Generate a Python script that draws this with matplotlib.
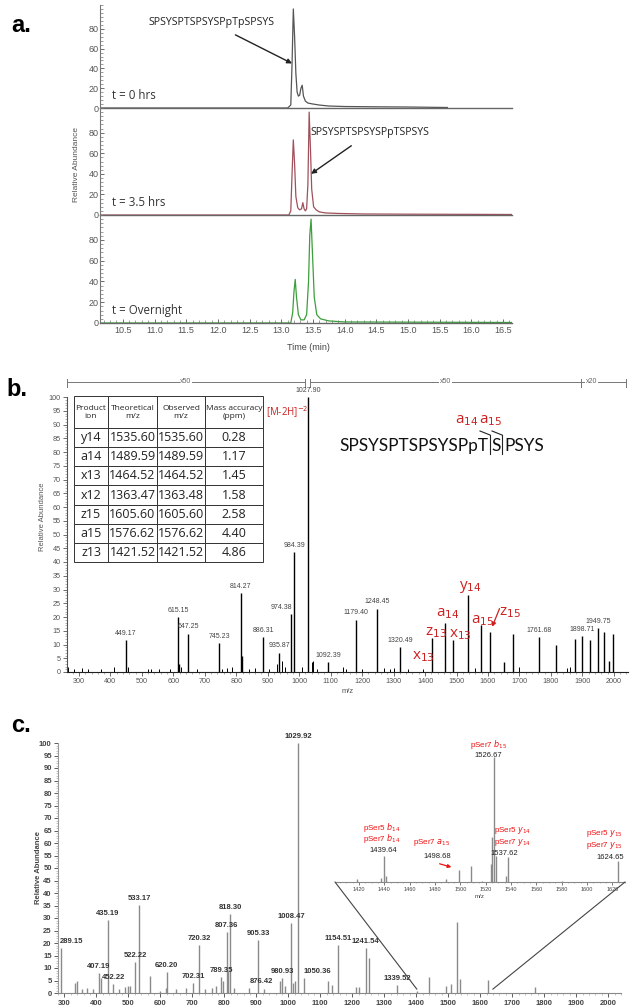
import matplotlib
matplotlib.use("Agg")
import matplotlib.pyplot as plt
from matplotlib.ticker import MultipleLocator
from matplotlib.patches import ConnectionPatch

W, H = 638, 1007
fig = plt.figure(figsize=(W / 100, H / 100), dpi=100)
NARROW = ["Liberation Sans Narrow", "Liberation Sans", "DejaVu Sans"]
ARIAL = ["Liberation Sans", "DejaVu Sans"]
CAL = ["Open Sans", "DejaVu Sans"]
LATO = ["Lato", "DejaVu Sans"]


def box(x0, y0, x1, y1):
    return [x0 / W, 1 - y1 / H, (x1 - x0) / W, (y1 - y0) / H]


def fpos(x, y):
    return (x / W, 1 - y / H)


# ---------------- data: panel a (chromatograms) ----------------
rt_t0 = [10.14, 13.10, 13.15, 13.17, 13.19, 13.21, 13.23, 13.25, 13.27, 13.29, 13.31, 13.33,
         13.35, 13.38, 13.42, 13.50, 13.60, 13.75, 14.00, 14.50, 15.00, 15.62]
ab_t0 = [0, 0, 3, 45, 100, 72, 35, 16, 12, 13, 20, 23, 12, 7, 5, 4, 3, 2, 1.5, 1.2, 1, 0.5]

rt_t35 = [10.14, 13.12, 13.15, 13.17, 13.19, 13.21, 13.23, 13.26, 13.29, 13.32, 13.34, 13.36,
          13.38, 13.40, 13.42, 13.44, 13.46, 13.48, 13.51, 13.55, 13.60, 13.70, 13.90, 14.30,
          15.00, 16.64]
ab_t35 = [0, 0, 4, 40, 73, 50, 18, 7, 5, 6, 12, 6, 4, 6, 30, 100, 65, 25, 8, 5, 3, 2, 1.5, 1,
          0.8, 0.5]

rt_on = [10.14, 13.15, 13.18, 13.20, 13.22, 13.24, 13.27, 13.31, 13.36, 13.40, 13.43, 13.45,
         13.47, 13.49, 13.52, 13.56, 13.62, 13.75, 14.00, 16.64]
ab_on = [0, 0, 10, 30, 42, 25, 8, 3, 3, 8, 40, 85, 100, 70, 25, 8, 4, 2, 1, 0.5]

traces = [(rt_t0, ab_t0, "#555555", "t = 0 hrs"),
          (rt_t35, ab_t35, "#a0505a", "t = 3.5 hrs"),
          (rt_on, ab_on, "#3c9e3c", "t = Overnight")]
a_xticks = [10.5, 11.0, 11.5, 12.0, 12.5, 13.0, 13.5, 14.0, 14.5, 15.0, 15.5, 16.0, 16.5]

# ---------------- data: panel b (MS/MS spectrum) ----------------
b_mz = [449.17, 615.15, 619.0, 647.25, 745.23, 814.27, 818.5, 886.31, 935.87, 974.38, 984.39,
        1027.90, 1092.39, 1179.40, 1248.45, 1320.49, 1421.52, 1464.52, 1489.59, 1535.60,
        1576.62, 1605.60, 1650.0, 1680.0, 1761.68, 1815.0, 1876.0, 1898.71, 1925.0, 1949.75,
        1968.0, 1985.0, 1997.0]
b_ab = [11.6, 20, 3, 14, 10.5, 28.6, 6, 12.7, 7, 21, 43.6,
        100, 3.6, 19, 23, 9, 12.4, 18, 11.6, 28,
        17, 14.5, 3.6, 14, 12.7, 10, 12, 13, 11.6, 16,
        14.5, 4, 14]
b_small_mz = [265, 285, 310, 330, 370, 410, 455, 520, 530, 555, 590, 625, 676, 755, 770, 787,
              840, 860, 905, 928, 945, 955, 1010, 1040, 1045, 1055, 1138, 1150, 1200, 1270,
              1290, 1300, 1345, 1395, 1560, 1700, 1850, 1860]
b_small_ab = [2, 1, 1.5, 1, 1, 2, 2, 1, 1, 1, 1, 2, 1, 1, 1.5, 2,
              1, 1.5, 1, 3, 4, 2, 2, 3.5, 4, 1, 2, 1, 1, 1.5,
              1, 1.5, 1, 1, 1.5, 2, 1.5, 2]
b_labeled = [449.17, 615.15, 647.25, 745.23, 814.27, 886.31, 935.87, 974.38, 984.39, 1027.90,
             1092.39, 1179.40, 1248.45, 1320.49, 1761.68, 1898.71, 1949.75]
b_xticks = list(range(300, 2001, 100))
b_yticks = list(range(0, 101, 5))

table_cols = ["Product\nion", "Theoretical\nm/z", "Observed\nm/z", "Mass accuracy\n(ppm)"]
table_ion = ["y14", "a14", "x13", "x12", "z15", "a15", "z13"]
table_theo = ["1535.60", "1489.59", "1464.52", "1363.47", "1605.60", "1576.62", "1421.52"]
table_obs = ["1535.60", "1489.59", "1464.52", "1363.48", "1605.60", "1576.62", "1421.52"]
table_ppm = ["0.28", "1.17", "1.45", "1.58", "2.58", "4.40", "4.86"]

# ---------------- data: panel c (spectrum + inset) ----------------
c_mz = [289.15, 333, 340, 355, 372, 390, 407.19, 414, 435.19, 452.22, 470, 488, 498, 505,
        522.22, 533.17, 567, 600, 618, 620.20, 650, 680, 702.31, 720.32, 740, 760, 775, 789.35,
        795, 807.36, 812, 818.30, 830, 876.42, 905.33, 925, 975, 980.93, 990, 1008.47, 1015,
        1020, 1029.92, 1050.36, 1124, 1135, 1154.51, 1213, 1220, 1241.54, 1252, 1339.52,
        1402, 1439, 1494, 1510, 1526.67, 1538, 1624, 1770]
c_ab = [18, 4, 5, 1.5, 2, 1.5, 8, 6, 29.2, 3.6, 1.5, 2.5, 3, 3,
        12.4, 35.2, 7, 1, 2, 8.4, 1.5, 2, 4, 19.2, 1.5, 2, 3, 6.4,
        5, 24.4, 9, 31.7, 2, 2, 21.2, 1.5, 5, 6, 3, 28, 4,
        5, 100, 6, 5, 3.3, 19.2, 2.4, 2.4, 18, 14, 3.2,
        1, 6.4, 2.7, 3.6, 28.4, 5.6, 5.2, 2.4]
c_labeled = [289.15, 407.19, 435.19, 452.22, 522.22, 533.17, 620.20, 702.31, 720.32, 789.35,
             807.36, 818.30, 876.42, 905.33, 980.93, 1008.47, 1029.92, 1050.36, 1154.51,
             1241.54, 1339.52]
c_xticks = list(range(300, 2001, 100))
c_yticks = list(range(0, 101, 5))

inset_mz = [1418, 1437.5, 1439.64, 1441, 1489, 1498.68, 1508, 1517, 1524, 1525.2, 1526.67,
            1528, 1536, 1537.62, 1580, 1624.65]
inset_ab = [2, 3, 20, 5, 2.5, 9, 12, 1, 14, 35, 96, 20, 5, 19, 1, 16]
inset_xticks = list(range(1420, 1621, 20))

# inset annotations: (number text, x, y, red lines [(text, x, y)])
inset_notes = [
    ("1526.67", 1522, 97, [("pSer7 $b_{15}$", 1522, 105.5)]),
    ("1439.64", 1439, 24.6, [("pSer7 $b_{14}$", 1438, 33.5), ("pSer5 $b_{14}$", 1438, 42)]),
    ("1537.62", 1535, 22, [("pSer7 $y_{14}$", 1541, 30.5), ("pSer5 $y_{14}$", 1541, 39.5)]),
    ("1624.65", 1618, 18.5, [("pSer7 $y_{15}$", 1613.5, 28), ("pSer5 $y_{15}$", 1613.5, 37.5)]),
    ("1498.68", 1481.5, 20, [("pSer7 $a_{15}$", 1477, 30)]),
]

# =================== PANEL a ===================
a_rows = [(5, 108), (108, 215), (215, 323)]
a_axes = []
for i, ((y0, y1), (rt, ab, col, lab)) in enumerate(zip(a_rows, traces)):
    ax = fig.add_axes(box(100, y0, 512, y1))
    ax.plot(rt, ab, color=col, lw=0.9)
    ax.set_xlim(10.14, 16.64)
    ax.set_ylim(0, 104)
    for s in ["top", "right"]:
        ax.spines[s].set_visible(False)
    ax.spines["left"].set_color("#777777")
    ax.spines["bottom"].set_color("#666666")
    ax.spines["left"].set_linewidth(0.8)
    ax.spines["bottom"].set_linewidth(1.0)
    ax.set_yticks([0, 20, 40, 60, 80])
    ax.yaxis.set_minor_locator(MultipleLocator(4))
    ax.tick_params(axis="y", which="major", labelsize=6.5, length=3, width=0.6, pad=1,
                   colors="#555555", direction="in")
    ax.tick_params(axis="y", which="minor", length=1.8, width=0.5, colors="#777777",
                   direction="in")
    for t in ax.get_yticklabels():
        t.set_fontfamily(ARIAL)
    ax.text(0.03, 0.12, lab, transform=ax.transAxes, fontsize=8.3, family=CAL,
            color="#333333", va="center")
    if i < 2:
        ax.set_xticks([])
    else:
        ax.set_xticks(a_xticks)
        ax.xaxis.set_minor_locator(MultipleLocator(0.1))
        ax.tick_params(axis="x", which="major", labelsize=6.5, length=3, width=0.6,
                       direction="in", colors="#555555", pad=2)
        ax.tick_params(axis="x", which="minor", length=2, width=0.5, direction="in",
                       colors="#777777")
        for t in ax.get_xticklabels():
            t.set_fontfamily(ARIAL)
    ax.patch.set_alpha(0)
    a_axes.append(ax)

a_axes[0].annotate("SPSYSPTSPSYSPpTpSPSYS", xy=(13.17, 45), xytext=(11.9, 86),
                   fontsize=7.7, family=CAL, color="#222222", ha="center", va="center",
                   arrowprops=dict(arrowstyle="-|>", color="#222222", lw=1.0,
                                   mutation_scale=7, shrinkA=6, shrinkB=0))
a_axes[1].annotate("SPSYSPTSPSYSPpTSPSYS", xy=(13.47, 40), xytext=(14.4, 80),
                   fontsize=7.6, family=CAL, color="#222222", ha="center", va="center",
                   arrowprops=dict(arrowstyle="-|>", color="#222222", lw=1.0,
                                   mutation_scale=7, shrinkA=6, shrinkB=0))
fig.text(*fpos(77, 165), "Relative Abundance", rotation=90, fontsize=6, family=ARIAL,
         color="#555555", ha="center", va="center")
fig.text(*fpos(308, 347), "Time (min)", fontsize=6.5, family=ARIAL, color="#444444",
         ha="center", va="center")
fig.text(*fpos(21, 26), "a.", fontsize=17, fontweight="bold", family=ARIAL, ha="center",
         va="center")

# =================== PANEL b ===================
axb = fig.add_axes(box(67, 397, 628, 672))
axb.vlines(b_small_mz, 0, b_small_ab, color="black", lw=0.7)
axb.vlines(b_mz, 0, b_ab, color="black", lw=1.0)
axb.set_xlim(262, 2045)
axb.set_ylim(0, 100)
for s in ["top", "right"]:
    axb.spines[s].set_visible(False)
axb.spines["left"].set_color("#555555")
axb.spines["bottom"].set_color("#222222")
axb.set_xticks(b_xticks)
axb.set_yticks(b_yticks)
axb.xaxis.set_minor_locator(MultipleLocator(20))
axb.yaxis.set_minor_locator(MultipleLocator(1))
axb.tick_params(axis="both", which="major", labelsize=5.2, length=3, width=0.6,
                colors="#555555", pad=1.5)
axb.tick_params(axis="both", which="minor", length=1.6, width=0.4, colors="#777777")
for t in axb.get_xticklabels() + axb.get_yticklabels():
    t.set_fontfamily(NARROW)
axb.set_xlabel("m/z", fontsize=5.5, family=NARROW, color="#555555", labelpad=2)
for mz, ab in zip(b_mz, b_ab):
    if mz in b_labeled:
        ha = "right" if mz == 974.38 else "center"
        axb.text(mz + (3 if ha == "right" else 0), ab + 1.2, f"{mz:.2f}", fontsize=5,
                 family=NARROW, color="#444444", ha=ha, va="bottom")
fig.text(*fpos(43, 517), "Relative Abundance", rotation=90, fontsize=5.5, family=NARROW,
         color="#555555", ha="center", va="center")
fig.text(*fpos(17, 390), "b.", fontsize=17, fontweight="bold", family=ARIAL, ha="center",
         va="center")

# magnification brackets
brackets = [(262, 1018, "x50"), (1035, 1895, "x50"), (1895, 2040, "x20")]
for x0, x1, lab in brackets:
    axb.plot([x0, x1], [105.5, 105.5], color="#777777", lw=0.7, clip_on=False)
    axb.plot([x0, x0], [103.5, 106.5], color="#777777", lw=0.7, clip_on=False)
    axb.plot([x1, x1], [103.5, 106.5], color="#777777", lw=0.7, clip_on=False)
    axb.text((x0 + x1) / 2 if lab == "x50" else x0 + 35, 105.5, lab, fontsize=5,
             family=NARROW, color="#666666", ha="center", va="center",
             bbox=dict(facecolor="white", edgecolor="none", pad=0.5))

# table
cells = [[a, b, c, d] for a, b, c, d in zip(table_ion, table_theo, table_obs, table_ppm)]
tb = axb.table(cellText=cells, colLabels=table_cols, cellLoc="center",
               bbox=[(74 - 67) / 561, (672 - 562) / 275, 189 / 561, 166 / 275],
               colWidths=[34 / 189, 49 / 189, 48 / 189, 58 / 189])
tb.auto_set_font_size(False)
for (r, c), cell in tb.get_celld().items():
    cell.set_linewidth(0.7)
    cell.set_edgecolor("#333333")
    cell.PAD = 0.02
    if r == 0:
        cell.set_height(32)
        cell.get_text().set_fontsize(6)
    else:
        cell.set_height(19.1)
        cell.get_text().set_fontsize(9)
    cell.get_text().set_fontfamily(CAL)
    cell.get_text().set_color("#222222")

fig.text(*fpos(287, 412), "[M-2H]$^{-2}$", fontsize=7, family=CAL, color="#cc2222",
         ha="center", va="center")

# peptide sequence with cleavage marks
seq_y = 446
SEQF = dict(fontsize=12.4, family=LATO, color="#111111", va="center")
fig.text(*fpos(488, seq_y), "SPSYSPTSPSYSPpT", ha="right", **SEQF)
fig.text(*fpos(496, seq_y), "S", ha="center", **SEQF)
fig.text(*fpos(504, seq_y), "PSYS", ha="left", **SEQF)
for bx in (490, 502):
    fig.add_artist(plt.Line2D([bx / W, bx / W], [1 - 435 / H, 1 - 454 / H], color="#222222",
                              lw=0.8))
    fig.add_artist(plt.Line2D([(bx - 10) / W, bx / W], [1 - 431 / H, 1 - 435 / H],
                              color="#222222", lw=0.8))
fig.text(*fpos(467, 421), "a$_{14}$", fontsize=11, family=CAL, color="#cc2222", ha="center",
         va="center")
fig.text(*fpos(491, 421), "a$_{15}$", fontsize=11, family=CAL, color="#cc2222", ha="center",
         va="center")

# red fragment labels
red_labels = [("y$_{14}$", 470, 587), ("a$_{14}$", 448, 613), ("a$_{15}$", 483, 620),
              ("z$_{15}$", 510, 612), ("z$_{13}$", 436, 632), ("x$_{13}$", 460, 634),
              ("x$_{13}$", 423, 657)]
for txt, x, y in red_labels:
    fig.text(*fpos(x, y), txt, fontsize=11, family=CAL, color="#cc2222", ha="center",
             va="center")
axb.annotate("", xy=(1610, 15.5), xytext=(1640, 24),
             arrowprops=dict(arrowstyle="-|>", color="#cc2222", lw=0.9, mutation_scale=6))

# =================== PANEL c ===================
axc = fig.add_axes(box(58, 743, 621, 993))
axc.vlines(c_mz, 0, c_ab, color="#8a8a8a", lw=1.0)
axc.set_xlim(280, 2040)
axc.set_ylim(0, 100)
for s in ["top", "right"]:
    axc.spines[s].set_visible(False)
axc.spines["left"].set_color("#999999")
axc.spines["bottom"].set_color("#888888")
axc.set_xticks(c_xticks)
axc.set_yticks(c_yticks)
axc.xaxis.set_minor_locator(MultipleLocator(20))
axc.yaxis.set_minor_locator(MultipleLocator(1))
axc.tick_params(axis="y", which="major", labelsize=5.5, length=3, width=0.6,
                colors="#444444", pad=1.5)
axc.tick_params(axis="x", which="major", labelsize=5.5, length=3, width=0.6,
                colors="#444444", pad=2)
axc.tick_params(axis="both", which="minor", length=1.6, width=0.4, colors="#999999")
for t in axc.get_xticklabels() + axc.get_yticklabels():
    t.set_fontfamily(ARIAL)
    t.set_fontweight("bold")
for mz, ab in zip(c_mz, c_ab):
    if mz in c_labeled:
        dx = 0
        ha = "center"
        if mz in (289.15, 1050.36):
            ha = "left"
            dx = -3
        if mz in (876.42,):
            ha = "left"
            dx = 3
        axc.text(mz + dx, ab + 1.2, f"{mz:.2f}", fontsize=5.5, family=ARIAL,
                 fontweight="bold", color="#333333", ha=ha, va="bottom")
fig.text(*fpos(38, 867), "Relative Abundance", rotation=90, fontsize=5.5, family=ARIAL,
         fontweight="bold", color="#444444", ha="center", va="center")
fig.text(*fpos(21, 725), "c.", fontsize=17, fontweight="bold", family=ARIAL, ha="center",
         va="center")

# inset
axi = fig.add_axes(box(335, 752, 625, 882))
axi.vlines(inset_mz, 0, inset_ab, color="#8a8a8a", lw=1.0)
axi.set_xlim(1401, 1630)
axi.set_ylim(0, 100)
for s in ["top", "right", "left"]:
    axi.spines[s].set_visible(False)
axi.spines["bottom"].set_color("#888888")
axi.set_yticks([])
axi.set_xticks(inset_xticks)
axi.xaxis.set_minor_locator(MultipleLocator(5))
axi.tick_params(axis="x", which="major", labelsize=4, length=2, width=0.5, colors="#444444",
                pad=1.5)
axi.tick_params(axis="x", which="minor", length=1, width=0.4, colors="#888888")
for t in axi.get_xticklabels():
    t.set_fontfamily(ARIAL)
axi.set_xlabel("m/z", fontsize=4.5, family=ARIAL, color="#444444", labelpad=1.5)
axi.patch.set_alpha(0)

for xa, xb in ((1401, 1402), (1630, 1639)):
    cp = ConnectionPatch(xyA=(xa, 0), coordsA=axi.transData, xyB=(xb, 1.5),
                         coordsB=axc.transData, color="#444444", lw=0.8)
    fig.add_artist(cp)

for num, nx, ny, reds in inset_notes:
    axi.text(nx, ny, num, fontsize=5.5, family=ARIAL, color="#222222", ha="center",
             va="center", clip_on=False)
    for txt, rx, ry in reds:
        axi.text(rx, ry, txt, fontsize=5.8, family=ARIAL, color="#ee1111", ha="center",
                 va="center", clip_on=False)
axi.annotate("", xy=(1495, 10.8), xytext=(1481.5, 14.6),
             arrowprops=dict(arrowstyle="-|>", color="#ee1111", lw=0.9, mutation_scale=5))

fig.savefig("out.png", dpi=100)
